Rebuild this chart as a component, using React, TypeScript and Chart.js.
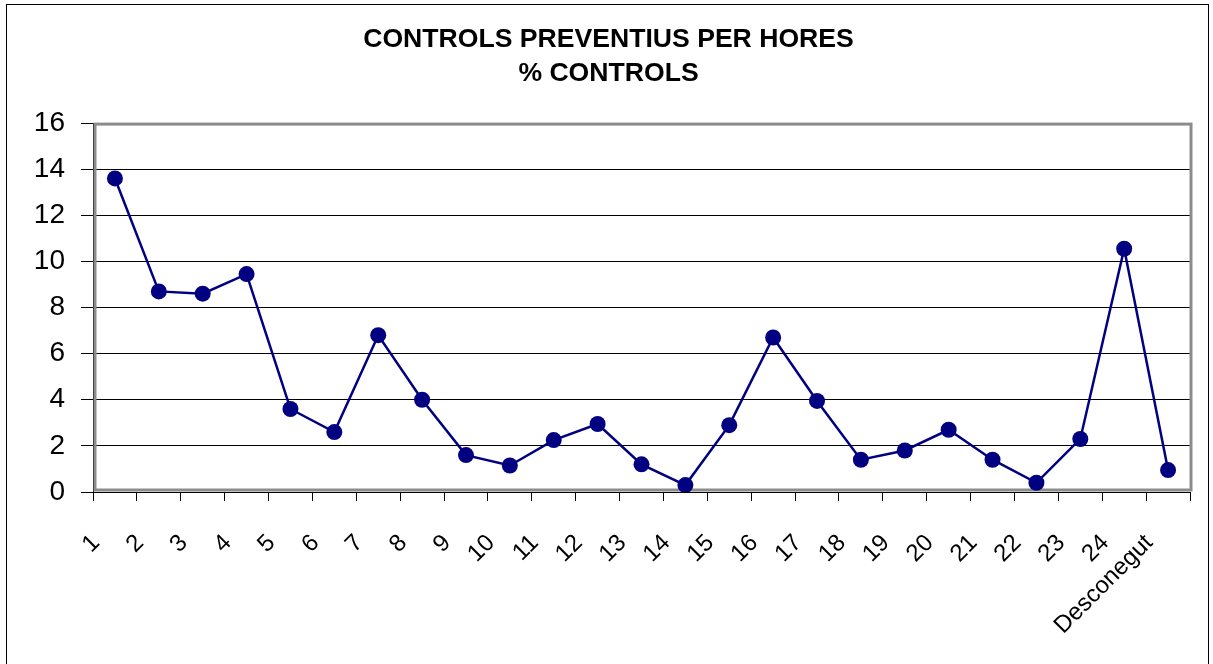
import React, { useEffect, useRef } from "react";
import { Chart, registerables } from "chart.js";

Chart.register(...registerables);

const categories: string[] = [
  "1", "2", "3", "4", "5", "6", "7", "8", "9", "10", "11", "12",
  "13", "14", "15", "16", "17", "18", "19", "20", "21", "22", "23", "24", "Desconegut",
];
const percentControls: number[] = [
  13.6, 8.7, 8.6, 9.45, 3.6, 2.6, 6.8, 4.0, 1.6, 1.15, 2.25, 2.95,
  1.2, 0.3, 2.9, 6.7, 3.95, 1.4, 1.8, 2.7, 1.4, 0.4, 2.3, 10.55, 0.95,
];
const yTicks: number[] = [0, 2, 4, 6, 8, 10, 12, 14, 16];
const titleLines: string[] = ["CONTROLS PREVENTIUS PER HORES", "% CONTROLS"];

const FONT = 'Arial, "Liberation Sans", sans-serif';

const framePlugin = {
  id: "framePlugin",
  beforeDraw(chart: any) {
    const ctx = chart.ctx;
    ctx.save();
    ctx.fillStyle = "#ffffff";
    ctx.fillRect(0, 0, chart.width, chart.height);
    ctx.strokeStyle = "#000000";
    ctx.lineWidth = 1;
    ctx.strokeRect(6.5, 4.5, 1202, 700);
    ctx.restore();
  },
  beforeDatasetsDraw(chart: any) {
    const { ctx, chartArea } = chart;
    ctx.save();
    ctx.strokeStyle = "#8c8c8c";
    ctx.lineWidth = 3;
    ctx.strokeRect(
      chartArea.left + 2,
      chartArea.top + 1,
      chartArea.right - chartArea.left - 1,
      chartArea.bottom - chartArea.top - 3
    );
    ctx.restore();
  },
};

export default function App() {
  const canvasRef = useRef<HTMLCanvasElement | null>(null);

  useEffect(() => {
    if (!canvasRef.current) return;
    const chart = new Chart(canvasRef.current, {
      type: "line",
      data: {
        labels: categories,
        datasets: [
          {
            label: "% controls",
            data: percentControls,
            borderColor: "#000080",
            backgroundColor: "#000080",
            borderWidth: 2.5,
            pointRadius: 8,
            pointBorderWidth: 0,
            pointBackgroundColor: "#000080",
            tension: 0,
            xAxisID: "x",
            yAxisID: "y",
          },
        ],
      },
      options: {
        responsive: false,
        animation: false,
        devicePixelRatio: 1,
        layout: { padding: { left: 4, right: 0, top: 0, bottom: 0 } },
        plugins: {
          legend: { display: false },
          tooltip: { enabled: false },
          title: {
            display: true,
            text: titleLines,
            color: "#000000",
            font: { family: FONT, size: 26.6, weight: "bold", lineHeight: 1.28 },
            padding: { top: 23, bottom: 32 },
          },
        },
        scales: {
          x: {
            type: "category",
            display: false,
            offset: true,
          },
          x2: {
            type: "linear",
            axis: "x",
            position: "bottom",
            min: 0,
            max: categories.length,
            afterFit: (scale: any) => {
              scale.height = 172;
              scale.paddingRight = 23;
              scale.paddingLeft = 0;
            },
            afterBuildTicks: (scale: any) => {
              scale.ticks = categories
                .map((_, i) => ({ value: i }))
                .concat([{ value: categories.length }]);
            },
            grid: {
              drawOnChartArea: false,
              drawTicks: true,
              tickLength: 9,
              color: "#000000",
              lineWidth: 1,
            },
            border: { display: true, color: "#000000", width: 1 },
            ticks: {
              autoSkip: false,
              minRotation: 45,
              maxRotation: 45,
              padding: 28,
              labelOffset: 3,
              color: "#000000",
              font: { family: FONT, size: 24 },
              callback: (value: any) => {
                const v = Number(value);
                return v < categories.length ? categories[v] : "";
              },
            },
          },
          y: {
            type: "linear",
            min: 0,
            max: 16,
            afterFit: (scale: any) => {
              scale.width = 89;
            },
            afterBuildTicks: (scale: any) => {
              scale.ticks = yTicks.map((v) => ({ value: v }));
            },
            grid: {
              color: "#000000",
              lineWidth: 1,
              drawTicks: true,
              tickLength: 12,
            },
            border: { display: true, color: "#000000", width: 1 },
            ticks: {
              padding: 16,
              color: "#000000",
              font: { family: FONT, size: 28 },
            },
          },
        },
      },
      plugins: [framePlugin],
    } as any);
    return () => chart.destroy();
  }, []);

  return (
    <div style={{ position: "absolute", left: 0, top: 0, width: 1213, height: 664, background: "#fff" }}>
      <canvas ref={canvasRef} width={1213} height={664} style={{ display: "block" }} />
    </div>
  );
}
